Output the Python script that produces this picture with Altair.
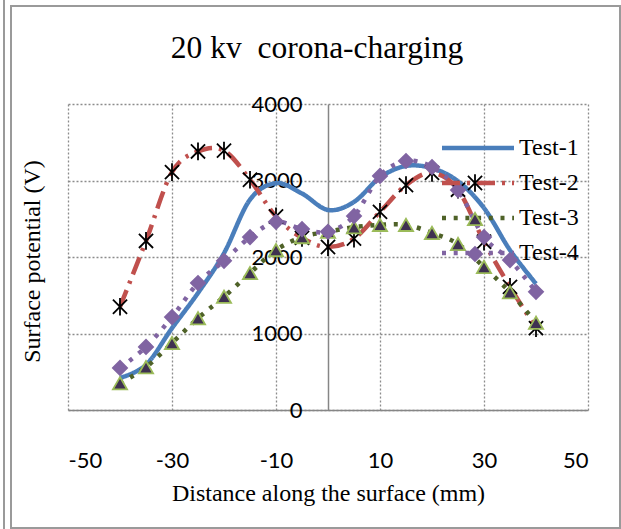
import altair as alt
import pandas as pd

# ---- data ----
positions = [-40, -35, -30, -25, -20, -15, -10, -5, 0, 5, 10, 15, 20, 25, 30, 35, 40]
test1 = [420, 590, 1070, 1530, 2050, 2750, 2965, 2830, 2615, 2720, 3040, 3190, 3160, 2990, 2640, 2090, 1650]
test2 = [1350, 2210, 3110, 3380, 3390, 3010, 2530, 2250, 2130, 2240, 2590, 2940, 3100, 2880, 2200, 1610, 1070]
test3 = [350, 560, 875, 1200, 1480, 1790, 2090, 2260, 2330, 2390, 2420, 2420, 2315, 2170, 1870, 1540, 1140]
test4 = [550, 825, 1215, 1660, 1950, 2260, 2460, 2365, 2330, 2535, 3060, 3255, 3175, 2875, 2260, 1960, 1545]

series_names = ["Test-1", "Test-2", "Test-3", "Test-4"]
marker_series = ["Test-2", "Test-3", "Test-4"]
x_ticks = [-50, -30, -10, 10, 30, 50]
y_ticks = [0, 1000, 2000, 3000, 4000]

line_colors = ["#4A7EBB", "#C0504D", "#4F6228", "#8064A2"]
line_dashes = [[1, 0], [18, 7, 3, 7], [4, 7.7], [4, 7.7]]
star_path = "M-1,-1L1,1M-1,1L1,-1M0,-1.25L0,1.25"
marker_shapes = [star_path, "triangle-up", "diamond"]
marker_fills = ["#000000", "#3F3151", "#8064A2"]
marker_strokes = ["#000000", "#9BBB59", "#8064A2"]

rows = []
for name, vals in zip(series_names, [test1, test2, test3, test4]):
    for xv, yv in zip(positions, vals):
        rows.append({"series": name, "x": xv, "y": yv})
lines_df = pd.DataFrame(rows)

mrows = []
for name, vals in zip(marker_series, [test2, test3, test4]):
    for xv, yv in zip(positions, vals):
        mrows.append({"mseries": name, "x": xv, "y": yv})
marks_df = pd.DataFrame(mrows)

x_enc = alt.X(
    "x:Q",
    scale=alt.Scale(domain=[-50, 50], nice=False),
    axis=alt.Axis(
        values=x_ticks, title="Distance along the surface (mm)",
        labelExpr="'' + datum.value",
        ticks=False, tickSize=0, labelPadding=40, titlePadding=10,
        labelFont="Lato", labelFontSize=22, labelColor="black",
        titleFont="Liberation Serif", titleFontSize=24, titleFontWeight="normal", titleColor="black",
        domainColor="#868686", domainWidth=1.5,
        grid=True, gridDash=[2, 2], gridColor="#8c8c8c", gridWidth=1.3,
    ),
)
y_enc = alt.Y(
    "y:Q",
    scale=alt.Scale(domain=[0, 4000], nice=False),
    axis=alt.Axis(
        values=y_ticks, title="Surface potential (V)", offset=-260,
        labelExpr="'' + datum.value",
        ticks=False, tickSize=0, labelPadding=26,
        labelFont="Lato", labelFontSize=22, labelColor="black",
        titleFont="Liberation Serif", titleFontSize=24, titleFontWeight="normal", titleColor="black",
        titleX=-296, titleY=157, titleAngle=-90, titleBaseline="middle", titleAlign="center",
        domainColor="#868686", domainWidth=1.5,
        grid=True, gridDash=[2, 2], gridColor="#8c8c8c", gridWidth=1.3,
    ),
)

line_leg = alt.Legend(
    orient="none", legendX=398, legendY=32, title=None,
    symbolType="M-6,0H6", symbolSize=144, symbolStrokeWidth=4.5,
    labelFont="Liberation Serif", labelFontSize=24, labelColor="black",
    labelOffset=29, rowPadding=11, padding=0,
)
lines = alt.Chart(lines_df).mark_line(interpolate="cardinal", strokeWidth=4.5).encode(
    x=x_enc,
    y=y_enc,
    color=alt.Color("series:N", scale=alt.Scale(domain=series_names, range=line_colors), legend=line_leg),
    strokeDash=alt.StrokeDash("series:N", scale=alt.Scale(domain=series_names, range=line_dashes), legend=line_leg),
    detail="series:N",
)

# marker legend overlaid on the line legend (its labels are blank spacers)
mleg = alt.Legend(
    orient="none", legendX=395, legendY=67, title=None,
    symbolSize=200, symbolStrokeWidth=1.8,
    labelFont="Liberation Serif", labelFontSize=24, labelOpacity=0,
    labelExpr="' '",
    labelOffset=29, rowPadding=11, padding=0,
)
points = alt.Chart(marks_df).mark_point(filled=True, size=200, strokeWidth=1.8, opacity=1).encode(
    x="x:Q",
    y="y:Q",
    shape=alt.Shape("mseries:N", scale=alt.Scale(domain=marker_series, range=marker_shapes), legend=mleg),
    fill=alt.Fill("mseries:N", scale=alt.Scale(domain=marker_series, range=marker_fills), legend=mleg),
    stroke=alt.Stroke("mseries:N", scale=alt.Scale(domain=marker_series, range=marker_strokes), legend=mleg),
)

# decorative chart-area frame (not data)
frame_df = pd.DataFrame({"k": [0]})
frame = alt.Chart(frame_df).mark_rect(fill=None, stroke="#9a9a9a", strokeWidth=2).encode(
    x=alt.value(-57), x2=alt.value(552), y=alt.value(-98), y2=alt.value(424)
)
edge = alt.Chart(frame_df).mark_rule(stroke="#9a9a9a", strokeWidth=2).encode(
    x=alt.value(-64), y=alt.value(-104), y2=alt.value(425)
)

chart = alt.layer(frame, edge, lines, points).properties(
    width=520,
    height=306,
    autosize=alt.AutoSizeParams(type="none"),
    padding={"left": 68, "top": 104, "right": 33, "bottom": 119},
    background="white",
    title=alt.Title(
        "20 kv\u00a0 corona-charging", font="Liberation Serif", fontSize=31.5,
        fontWeight="normal", color="black", anchor="middle", dx=-11, offset=-65,
    ),
).configure_view(stroke=None)

chart.save("out.html", embed_options={"renderer": "svg", "actions": False})
